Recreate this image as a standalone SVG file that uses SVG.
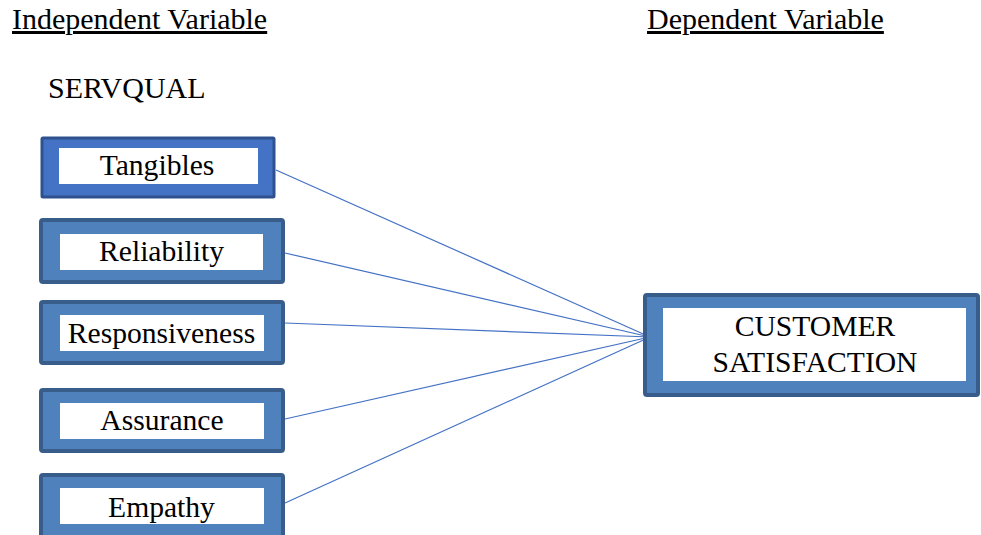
<svg xmlns="http://www.w3.org/2000/svg" width="981" height="535" viewBox="0 0 981 535">
<style>
.box{fill:#4F81BD;stroke:#385D8A;stroke-width:4}
.box1{fill:#4472C4;stroke:#2F528F;stroke-width:3}
.in{fill:#fff}
.con line{stroke:#4472C4;stroke-width:1.2}
</style>
<rect width="981" height="535" fill="#fff"/>
<g font-family="'Liberation Serif', Tinos, 'Times New Roman', serif" font-size="30" fill="#000">
<text x="12" y="29" text-decoration="underline">Independent Variable</text>
<text x="647" y="29" text-decoration="underline">Dependent Variable</text>
<text x="48" y="98">SERVQUAL</text>
</g>
<g class="con">
<line x1="276" y1="170" x2="650" y2="337"/>
<line x1="285" y1="253" x2="650" y2="337"/>
<line x1="285" y1="323" x2="650" y2="337"/>
<line x1="285" y1="419" x2="650" y2="337"/>
<line x1="285" y1="503" x2="650" y2="337"/>
</g>
<g font-family="'Liberation Serif', Tinos, 'Times New Roman', serif" font-size="29.6" fill="#000" text-anchor="middle">
<g id="tangibles">
<rect class="box1" x="42" y="138" width="232" height="59" rx="1"/>
<rect class="in" x="59" y="148" width="199" height="36"/>
<text x="157" y="175">Tangibles</text>
</g>
<g id="reliability">
<rect class="box" x="41" y="220" width="242" height="62" rx="2"/>
<rect class="in" x="60" y="234" width="203" height="36"/>
<text x="161.5" y="261">Reliability</text>
</g>
<g id="responsiveness">
<rect class="box" x="41" y="302" width="242" height="61" rx="2"/>
<rect class="in" x="60" y="315" width="204" height="36"/>
<text x="161.5" y="343">Responsiveness</text>
</g>
<g id="assurance">
<rect class="box" x="41" y="390" width="242" height="61" rx="2"/>
<rect class="in" x="60" y="403" width="204" height="36"/>
<text x="162" y="430">Assurance</text>
</g>
<g id="empathy">
<rect class="box" x="41" y="475" width="242" height="64" rx="2"/>
<rect class="in" x="60" y="488" width="204" height="36"/>
<text x="161.5" y="517">Empathy</text>
</g>
<g id="customer-satisfaction">
<rect class="box" x="645" y="295" width="333" height="100" rx="2"/>
<rect class="in" x="663" y="308" width="303" height="73"/>
<text x="815" y="336">CUSTOMER</text>
<text x="815" y="372">SATISFACTION</text>
</g>
</g>
</svg>
